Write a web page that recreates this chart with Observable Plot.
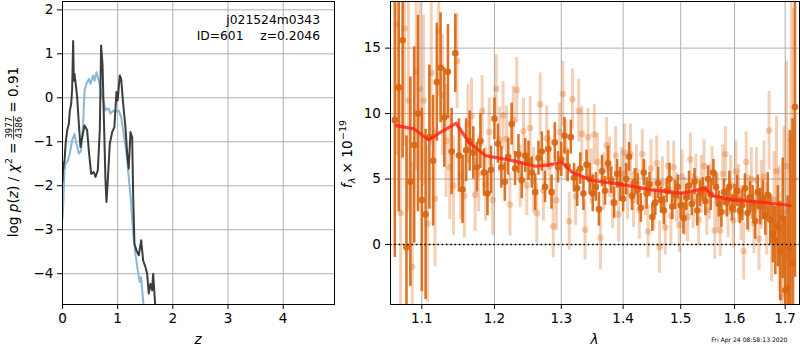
<!DOCTYPE html>
<html>
<head>
<meta charset="utf-8">
<script src="https://cdn.jsdelivr.net/npm/d3@7"></script>
<script src="https://cdn.jsdelivr.net/npm/@observablehq/plot@0.6"></script>
<style>
  html, body { margin: 0; padding: 0; background: white; }
  #wrap { position: relative; width: 800px; height: 350px; overflow: hidden; background: white; }
  #left { position: absolute; left: 0; top: 0; }
  #right { position: absolute; left: 340px; top: 0; }
</style>
</head>
<body>
<div id="wrap"><div id="left"></div><div id="right"></div></div>
<script>
// ---------------- LEFT PANEL DATA: log p(z) curves ----------------
const leftXTicks = [0, 1, 2, 3, 4];
const leftYTicks = [-4, -3, -2, -1, 0, 1, 2];

const zBlue = [0.0, 0.01, 0.036, 0.054, 0.096, 0.133, 0.175, 0.217, 0.254, 0.296, 0.338, 0.375, 0.40, 0.435, 0.477, 0.507, 0.556, 0.58, 0.616, 0.658, 0.70, 0.748, 0.78, 0.81, 0.84, 0.87, 0.918, 0.96, 1.0, 1.02, 1.063, 1.11, 1.16, 1.2, 1.245, 1.28, 1.322, 1.364, 1.40, 1.426, 1.45, 1.48];
const pzBlue = [-2.75, -2.56, -1.65, -1.5, -1.43, -1.27, -0.97, -0.82, -1.05, -1.27, -1.2, -0.59, 0.17, 0.32, 0.43, 0.32, 0.51, 0.39, 0.58, 0.39, 0.13, -0.1, -0.29, -0.25, -0.25, -0.36, -0.29, -0.33, -0.29, -0.29, -0.44, -0.82, -1.27, -1.8, -2.41, -3.09, -3.55, -3.92, -4.19, -4.08, -4.45, -4.85];

const zDark = [0.0, 0.01, 0.024, 0.036, 0.06, 0.085, 0.115, 0.133, 0.157, 0.175, 0.193, 0.205, 0.217, 0.241, 0.266, 0.296, 0.326, 0.356, 0.399, 0.447, 0.477, 0.52, 0.567, 0.598, 0.64, 0.676, 0.70, 0.725, 0.748, 0.779, 0.797, 0.821, 0.857, 0.90, 0.94, 0.978, 1.0, 1.038, 1.063, 1.10, 1.141, 1.172, 1.20, 1.232, 1.263, 1.28, 1.304, 1.34, 1.383, 1.426, 1.462, 1.504, 1.534, 1.563, 1.594, 1.625, 1.643, 1.667, 1.69];
const pzDark = [-1.9, -1.65, -1.5, -1.43, -1.0, -0.74, -0.59, -0.29, -0.14, 0.2, 1.29, 0.39, 0.55, 0.3, 0.01, -0.59, -1.12, -0.9, -0.63, -0.74, -1.2, -1.73, -1.69, -1.8, -1.65, -0.74, 1.19, 0.77, -0.36, -1.88, -2.37, -1.88, -1.05, -0.78, -0.67, 0.13, -0.06, 0.51, 0.43, -0.14, -0.67, -1.27, -1.61, -0.78, -0.9, -2.18, -3.32, -3.47, -3.58, -3.24, -3.7, -3.85, -4.0, -4.45, -4.23, -4.38, -4.0, -4.45, -4.9];

const objName = "j021524m0343";
const objId = "ID=601";
const objZ = "z=0.2046";
const chi2Num = "3977";
const chi2Den = "4386";
const chi2Val = "0.91";
const stampText = "Fri Apr 24 08:58:13 2020";

// ---------------- RIGHT PANEL DATA: spectrum ----------------
const rightXTicks = [1.1, 1.2, 1.3, 1.4, 1.5, 1.6, 1.7];
const rightYTicks = [0, 5, 10, 15];

const darkWave = [
 1.065,1.070,1.075,1.080,1.085,1.090,1.095,1.100,1.105,1.110,
 1.115,1.120,1.125,1.130,1.135,1.140,1.145,1.150,1.155,1.160,
 1.165,1.170,1.175,1.180,1.185,1.190,1.195,1.200,1.205,1.210,
 1.215,1.220,1.225,1.230,1.235,1.240,1.245,1.250,1.255,1.260,
 1.265,1.270,1.275,1.280,1.285,1.290,1.295,1.300,1.305,1.310,
 1.315,1.320,1.325,1.330,1.335,1.340,1.345,1.350,1.355,1.360,
 1.365,1.370,1.375,1.380,1.385,1.390,1.395,1.400,1.405,1.410,
 1.415,1.420,1.425,1.430,1.435,1.440,1.445,1.450,1.455,1.460,
 1.465,1.470,1.475,1.480,1.485,1.490,1.495,1.500,1.505,1.510,
 1.515,1.520,1.525,1.530,1.535,1.540,1.545,1.550,1.555,1.560,
 1.565,1.570,1.575,1.580,1.585,1.590,1.595,1.600,1.605,1.610,
 1.615,1.620,1.625,1.630,1.635,1.640,1.645,1.650,1.655,1.660,
 1.665,1.670,1.675,1.680,1.685,1.690,1.695,1.700,1.705,1.710,1.715,1.720];
const darkFlux = [
 9.5, 12.0, 15.6, -0.2, 4.8, 7.6, 10.0, 3.4, 2.3, 8.2,
 6.4, 12.4, 13.5, 9.7, 13.2, 7.1, 14.6, 6.8, 4.2, 7.2,
 7.9, 7.0, 5.9, 7.9, 5.5, 3.9, 5.7, 9.6, 7.7, 5.9,
 4.8, 6.7, 9.2, 5.8, 6.9, 4.9, 6.8, 6.4, 5.5, 4.0,
 6.6, 7.1, 4.4, 7.3, 4.0, 7.8, 5.9, 6.5, 8.3, 6.0,
 8.2, 5.1, 4.3, 5.8, 3.9, 6.1, 5.0, 3.9, 4.4, 2.7,
 5.6, 4.1, 6.2, 4.9, 3.2, 5.4, 4.6, 3.5, 5.0, 6.7,
 3.7, 4.8, 4.2, 2.8, 5.5, 3.9, 4.6, 2.1, 3.2, 4.7,
 3.4, 2.6, 4.1, 5.0, 2.9, 3.8, 4.4, 3.0, 2.0, 3.6,
 4.5, 3.1, 4.8, 2.6, 3.9, 4.2, 3.3, 5.0, 3.8, 5.5,
 4.4, 3.1, 2.5, 4.0, 3.2, 4.4, 2.8, 3.5, 4.1, 2.6,
 3.0, 4.3, 2.4, 3.6, 3.2, 1.8, 4.0, 2.9, 3.4, 2.2,
 3.8, 1.9, 0.8, 0.3, 1.4, -0.5, 2.0, -3.5, -3.3, -0.3, -1.4, 10.5];
const darkErr = [
 10.5, 9.5, 9.0, 8.5, 8.0, 7.5, 7.5, 7.0, 6.5, 5.5,
 5.0, 4.5, 4.2, 3.8, 3.6, 3.3, 3.0, 2.8, 2.6, 2.4,
 2.3, 2.0, 1.9, 2.1, 1.8, 1.7, 1.8, 1.6, 1.5, 1.6,
 1.5, 1.4, 1.6, 1.3, 1.5, 1.4, 1.3, 1.5, 1.2, 1.4,
 1.3, 1.5, 1.2, 1.4, 1.3, 1.5, 1.2, 1.3, 1.4, 1.2,
 1.3, 1.1, 1.4, 1.2, 1.3, 1.1, 1.2, 1.4, 1.1, 1.3,
 1.2, 1.1, 1.3, 1.0, 1.2, 1.1, 1.3, 1.0, 1.2, 1.1,
 1.1, 1.0, 1.2, 1.1, 1.0, 1.2, 0.9, 1.1, 1.0, 1.2,
 1.0, 1.1, 0.9, 1.2, 1.0, 1.1, 0.9, 1.0, 1.2, 1.0,
 1.1, 0.9, 1.0, 1.2, 1.0, 0.9, 1.1, 1.0, 1.2, 1.0,
 1.1, 1.0, 1.2, 1.0, 1.1, 1.2, 1.0, 1.1, 1.2, 1.0,
 1.2, 1.1, 1.3, 1.2, 1.3, 1.4, 1.3, 1.4, 1.5, 1.5,
 1.7, 1.9, 2.2, 2.6, 3.1, 3.8, 4.6, 5.6, 7.0, 9.0, 11.0, 13.0];

const lightWave = [
 1.0675,1.0725,1.0775,1.0825,1.0875,1.0925,1.0975,1.1025,1.1075,1.1125,
 1.1175,1.1225,1.1275,1.1325,1.1375,1.1425,1.1475,1.1525,1.1575,1.1625,
 1.1675,1.1725,1.1775,1.1825,1.1875,1.1925,1.1975,1.2025,1.2075,1.2125,
 1.2175,1.2225,1.2275,1.2325,1.2375,1.2425,1.2475,1.2525,1.2575,1.2625,
 1.2675,1.2725,1.2775,1.2825,1.2875,1.2925,1.2975,1.3025,1.3075,1.3125,
 1.3175,1.3225,1.3275,1.3325,1.3375,1.3425,1.3475,1.3525,1.3575,1.3625,
 1.3675,1.3725,1.3775,1.3825,1.3875,1.3925,1.3975,1.4025,1.4075,1.4125,
 1.4175,1.4225,1.4275,1.4325,1.4375,1.4425,1.4475,1.4525,1.4575,1.4625,
 1.4675,1.4725,1.4775,1.4825,1.4875,1.4925,1.4975,1.5025,1.5075,1.5125,
 1.5175,1.5225,1.5275,1.5325,1.5375,1.5425,1.5475,1.5525,1.5575,1.5625,
 1.5675,1.5725,1.5775,1.5825,1.5875,1.5925,1.5975,1.6025,1.6075,1.6125,
 1.6175,1.6225,1.6275,1.6325,1.6375,1.6425,1.6475,1.6525,1.6575,1.6625,
 1.6675,1.6725,1.6775,1.6825,1.6875,1.6925,1.6975,1.7025,1.7075,1.7125,1.7175];
const lightFlux = [
 16.8, 2.4, 16.5, 11.0, -1.7, 13.2, 11.9, 11.0, 1.6, 13.1,
 3.5, 16.3, 11.4, 7.9, 5.9, 4.5, 14.0, 5.3, 3.7, 9.2,
 9.8, 3.8, 5.4, 10.2, 4.6, 8.6, 3.4, 11.9, 8.0, 9.85,
 8.07, 3.05, 9.5, 11.8, 5.2, 8.65, 4.5, 8.9, 4.9, 2.39,
 10.7, 4.1, 8.1, 6.0, 1.4, 3.36, 8.6, 11.5, 7.2, 1.78,
 11.1, 3.66, 10.2, 8.45, 1.12, 8.2, 5.2, 8.4, 6.3, 0.5,
 4.8, 7.6, 5.9, 3.2, 6.8, 2.3, 5.4, 7.0, 4.0, 6.9,
 3.4, 5.6, 2.6, 6.9, 4.3, 1.0, 5.8, 3.0, 6.2, -0.2,
 4.7, 1.3, 6.0, 2.2, 5.9, 3.6, 1.5, 5.2, 2.9, 2.1,
 6.5, 3.3, 5.0, 1.9, 4.6, 6.0, 2.6, 4.0, 5.5, 1.07,
 3.3, 1.07, 5.4, 6.9, 2.5, 4.6, 1.83, 5.6, 3.9, 2.4,
 -0.5, 6.3, 3.1, 5.0, 1.6, 4.9, 0.43, 3.8, 5.2, 2.0,
 8.7, 0.43, 3.4, 5.6, 1.2, -4.0, 2.5, 6.0, -0.8, 8.0, 5.0];
const lightErr = [
 10, 9.5, 9, 8.5, 8, 7.5, 7, 6.5, 6, 5.5,
 5.2, 5.0, 4.6, 4.3, 4.0, 3.8, 3.6, 3.4, 3.2, 3.0,
 2.9, 2.8, 2.9, 2.7, 2.8, 2.6, 2.7, 2.6, 2.5, 2.6,
 2.5, 2.4, 2.6, 2.5, 2.4, 2.5, 2.3, 2.4, 2.5, 2.3,
 2.4, 2.3, 2.5, 2.2, 2.4, 2.3, 2.2, 2.5, 2.3, 2.2,
 2.3, 2.2, 2.4, 2.1, 2.3, 2.2, 2.1, 2.3, 2.2, 2.4,
 2.2, 2.1, 2.3, 2.0, 2.2, 2.1, 2.0, 2.2, 2.1, 2.3,
 2.1, 2.0, 2.2, 1.9, 2.1, 2.0, 2.2, 1.9, 2.1, 2.0,
 2.0, 2.1, 1.9, 2.2, 2.0, 1.9, 2.1, 2.0, 2.2, 1.9,
 2.0, 2.1, 1.9, 2.0, 2.2, 2.0, 1.9, 2.1, 2.0, 2.2,
 2.1, 2.0, 2.2, 2.1, 2.0, 2.2, 2.1, 2.3, 2.2, 2.1,
 2.2, 2.3, 2.2, 2.4, 2.3, 2.5, 2.4, 2.6, 2.7, 2.8,
 3.0, 3.3, 3.7, 4.2, 4.8, 5.5, 6.5, 8.0, 9.5, 11, 13];

const modelWave = [1.067, 1.09, 1.109, 1.127, 1.146, 1.164, 1.187, 1.226, 1.26, 1.281, 1.301, 1.317, 1.349, 1.399, 1.449, 1.502, 1.539, 1.545, 1.557, 1.595, 1.653, 1.71];
const modelFlux = [9.08, 8.83, 7.99, 8.65, 9.26, 7.81, 6.79, 6.41, 5.98, 6.08, 6.28, 5.52, 4.89, 4.58, 4.17, 3.92, 4.25, 4.3, 3.74, 3.41, 3.23, 2.98];

// ---------------- helpers ----------------
const minusFmt = d => (d < 0 ? "\u2212" + Math.abs(d) : String(d));
const FONT = "DejaVu Sans";
const baseStyle = {fontFamily: FONT, fontSize: "13.6px", color: "black", background: "white", overflow: "visible"};
const GRID = "#b0b0b0";

const blueData = zBlue.map((z, i) => ({z, p: pzBlue[i]}));
const darkCurve = zDark.map((z, i) => ({z, p: pzDark[i]}));

const leftPlot = Plot.plot({
  width: 340, height: 350,
  marginLeft: 62, marginRight: 6, marginTop: 1, marginBottom: 46,
  style: baseStyle,
  x: {domain: [0, 4.93], ticks: leftXTicks, tickSize: 5, tickPadding: 4, label: null, tickFormat: minusFmt},
  y: {domain: [-4.70, 2.19], ticks: leftYTicks, tickSize: 5, tickPadding: 4, label: null, tickFormat: minusFmt},
  marks: [
    Plot.ruleX(leftXTicks, {stroke: GRID, strokeWidth: 1}),
    Plot.ruleY(leftYTicks, {stroke: GRID, strokeWidth: 1}),
    Plot.line(blueData, {x: "z", y: "p", stroke: "#89b7d9", strokeWidth: 2, clip: true}),
    Plot.line(darkCurve, {x: "z", y: "p", stroke: "#333333", strokeOpacity: 0.95, strokeWidth: 2, clip: true}),
    Plot.frame({stroke: "black", strokeWidth: 1})
  ]
});
document.getElementById("left").appendChild(leftPlot);

const darkPts = darkWave.map((w, i) => ({w, f: darkFlux[i], e: darkErr[i]}));
const lightPts = lightWave.map((w, i) => ({w, f: lightFlux[i], e: lightErr[i]}));
const modelPts = modelWave.map((w, i) => ({w, f: modelFlux[i]}));
const ORANGE = "#d9650f";

const rightPlot = Plot.plot({
  width: 460, height: 350,
  marginLeft: 50, marginRight: 1, marginTop: 1, marginBottom: 46,
  style: baseStyle,
  x: {type: "log", domain: [1.0595, 1.7294], ticks: rightXTicks, tickSize: 5, tickPadding: 4, label: null, tickFormat: d => d.toFixed(1)},
  y: {domain: [-4.58, 18.56], ticks: rightYTicks, tickSize: 5, tickPadding: 4.5, label: null, tickFormat: minusFmt},
  marks: [
    Plot.ruleX(rightXTicks, {stroke: GRID, strokeWidth: 1}),
    Plot.ruleY(rightYTicks, {stroke: GRID, strokeWidth: 1}),
    Plot.ruleX(lightPts, {x: "w", y1: d => d.f - d.e, y2: d => d.f + d.e, stroke: ORANGE, strokeOpacity: 0.3, strokeWidth: 3, clip: true}),
    Plot.dot(lightPts, {x: "w", y: "f", r: 3.3, fill: ORANGE, fillOpacity: 0.3, stroke: "none", clip: true}),
    Plot.ruleX(darkPts, {x: "w", y1: d => d.f - d.e, y2: d => d.f + d.e, stroke: ORANGE, strokeOpacity: 0.9, strokeWidth: 2.6, clip: true}),
    Plot.dot(darkPts, {x: "w", y: "f", r: 3.3, fill: ORANGE, fillOpacity: 0.9, stroke: "none", clip: true}),
    Plot.line(modelPts, {x: "w", y: "f", stroke: "#ff2215", strokeOpacity: 0.8, strokeWidth: 3.2, clip: true}),
    Plot.ruleY([0], {stroke: "black", strokeWidth: 1.6, strokeDasharray: "1.6,2.7"}),
    Plot.frame({stroke: "black", strokeWidth: 1})
  ]
});
document.getElementById("right").appendChild(rightPlot);

// ---------------- text overlays ----------------
const L = d3.select(leftPlot);
const R = d3.select(rightPlot);

// lay out a sequence of simple text runs along a baseline (start-anchored), return total advance
function runs(g, parts, x0) {
  let x = x0;
  for (const p of parts) {
    const t = g.append("text")
      .attr("x", x).attr("y", p.dy || 0)
      .attr("text-anchor", "start")
      .attr("font-size", p.size || 13.6)
      .attr("fill", "black")
      .text(p.text);
    if (p.italic) t.attr("font-style", "italic");
    x += t.node().getComputedTextLength() + (p.gap || 0);
  }
  return x;
}

// left y label: log p(z) / chi^2 = 3977/4386 = 0.91
{
  const g = L.append("g").attr("text-anchor", "start");
  let x = runs(g, [
    {text: "log", gap: 4.3},
    {text: "p", italic: true},
    {text: "("},
    {text: "z", italic: true},
    {text: ")", gap: 4.3},
    {text: "/", gap: 4.3},
    {text: "\u03c7", italic: true, gap: 0.5},
    {text: "2", size: 9.5, dy: -6, gap: 4},
    {text: "=", gap: 3}
  ], 0);
  const num = g.append("text").attr("font-size", 8.6).attr("text-anchor", "middle").attr("y", -6).text(chi2Num);
  const den = g.append("text").attr("font-size", 8.6).attr("text-anchor", "middle").attr("y", 4.8).text(chi2Den);
  const fw = Math.max(num.node().getComputedTextLength(), den.node().getComputedTextLength()) + 2;
  const cx = x + fw / 2;
  num.attr("x", cx); den.attr("x", cx);
  g.append("line").attr("x1", x).attr("x2", x + fw).attr("y1", -3.9).attr("y2", -3.9).attr("stroke", "black").attr("stroke-width", 0.8);
  x += fw + 3;
  x = runs(g, [{text: "=", gap: 4.3}, {text: chi2Val}], x);
  g.attr("transform", `translate(17.5,${152 + x / 2}) rotate(-90)`);
}
// left x label
L.append("text").attr("x", 198).attr("y", 344).attr("text-anchor", "middle").attr("font-style", "italic").attr("font-size", 13.6).text("z");
// annotations
L.append("text").attr("x", 320).attr("y", 24).attr("text-anchor", "end").attr("font-size", 12.3).text(objName);
L.append("text").attr("x", 320).attr("y", 39.5).attr("text-anchor", "end").attr("font-size", 12.3).text(objZ);
L.append("text").attr("x", 243.5).attr("y", 39.5).attr("text-anchor", "end").attr("font-size", 12.3).text(objId);

// right y label: f_lambda x 10^-19
{
  const g = R.append("g").attr("text-anchor", "start");
  const x = runs(g, [
    {text: "f", italic: true, gap: 0},
    {text: "\u03bb", italic: true, size: 9.5, dy: 3, gap: 4.3},
    {text: "\u00d7", gap: 4.3},
    {text: "10", gap: 0.5},
    {text: "\u221219", size: 9.5, dy: -6}
  ], 0);
  g.attr("transform", `translate(12,${154 + x / 2}) rotate(-90)`);
}
// right x label
R.append("text").attr("x", 254.5).attr("y", 344).attr("text-anchor", "middle").attr("font-style", "italic").attr("font-size", 13.6).text("\u03bb");
// timestamp
R.append("text").attr("x", 447.5).attr("y", 342).attr("text-anchor", "end").attr("font-size", 6.1).text(stampText);
</script>
</body>
</html>
